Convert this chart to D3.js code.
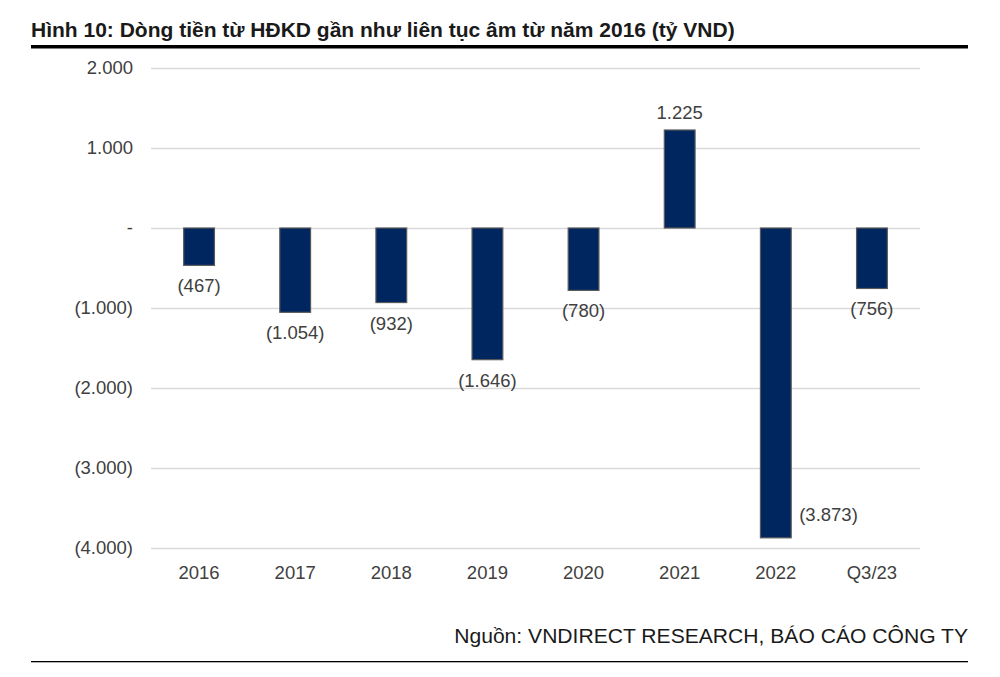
<!DOCTYPE html>
<html>
<head>
<meta charset="utf-8">
<script src="https://cdn.jsdelivr.net/npm/d3@7"></script>
<style>
  body { margin: 0; background: #fff; }
  svg { font-family: "Liberation Sans", Arial, sans-serif; }
</style>
</head>
<body>
<svg id="chart" width="1000" height="677"></svg>
<script>
const categories = ['2016', '2017', '2018', '2019', '2020', '2021', '2022', 'Q3/23'];
const values = [-467, -1054, -932, -1646, -780, 1225, -3873, -756];
const yTicks = [2000, 1000, 0, -1000, -2000, -3000, -4000];

const width = 1000, height = 677;
const svg = d3.select('#chart');
const labelSize = '18.5px';

// number format like the source: dot thousands, negatives in brackets, zero as dash
function fmt(v) {
  if (v === 0) return '-';
  let s = Math.abs(v).toString().replace(/\B(?=(\d{3})+(?!\d))/g, '.');
  return v < 0 ? `(${s})` : s;
}

// title + rules
svg.append('text')
  .attr('x', 31).attr('y', 37)
  .style('font-size', '21px').style('font-weight', 'bold').style('fill', '#1a1a1a')
  .text('Hình 10: Dòng tiền từ HĐKD gần như liên tục âm từ năm 2016 (tỷ VND)');
svg.append('rect').attr('x', 31).attr('y', 45).attr('width', 937).attr('height', 3.5).style('fill', '#000');

svg.append('text')
  .attr('x', 968).attr('y', 643).attr('text-anchor', 'end')
  .style('font-size', '21.1px').style('fill', '#1a1a1a')
  .text('Nguồn: VNDIRECT RESEARCH, BÁO CÁO CÔNG TY');
svg.append('rect').attr('x', 31).attr('y', 661).attr('width', 937).attr('height', 1.3).style('fill', '#000');

// scales
let x = d3.scaleBand().domain(categories).range([151, 920]).paddingInner(0.68).paddingOuter(0.34);
let y = d3.scaleLinear().domain([-4000, 2000]).range([548, 68]);

// grid
let grid = d3.axisLeft(y).tickValues(yTicks).tickSize(-(920 - 151)).tickFormat('');
let gGrid = svg.append('g').attr('transform', `translate(${151},0)`).call(grid);
gGrid.select('.domain').remove();
gGrid.selectAll('line').style('stroke', '#d9d9d9').style('stroke-width', 1.3);

// y axis labels
let yAxis = d3.axisLeft(y).tickValues(yTicks).tickSize(0).tickPadding(0).tickFormat(fmt);
let gy = svg.append('g').attr('transform', `translate(${133},0)`).call(yAxis);
gy.select('.domain').remove();
gy.selectAll('text').style('font-size', labelSize).style('fill', '#404040').style('font-family', '"Liberation Sans", Arial, sans-serif');

// x axis labels
let xAxis = d3.axisBottom(x).tickSize(0).tickPadding(0);
let gx = svg.append('g').attr('transform', `translate(0,${566})`).call(xAxis);
gx.select('.domain').remove();
gx.selectAll('text').style('font-size', labelSize).style('fill', '#404040').style('font-family', '"Liberation Sans", Arial, sans-serif');

// bars
svg.append('g').selectAll('rect')
  .data(values)
  .join('rect')
  .attr('x', (d, i) => x(categories[i]))
  .attr('y', d => y(Math.max(0, d)))
  .attr('width', x.bandwidth())
  .attr('height', d => Math.abs(y(d) - y(0)))
  .style('fill', '#002660')
  .style('stroke', '#595959')
  .style('stroke-width', 1.2);

// data labels; the lowest one does not fit under its bar and sits beside it
const fitsBelow = d => y(d) + 28 <= 548;
svg.append('g').selectAll('text')
  .data(values)
  .join('text')
  .attr('x', (d, i) => fitsBelow(d) || d >= 0
    ? x(categories[i]) + x.bandwidth() / 2
    : x(categories[i]) + x.bandwidth() + 8)
  .attr('y', d => {
    if (d >= 0) return y(d) - 11.5;
    if (!fitsBelow(d)) return y(d) - 16.5;
    return y(d) + 27;
  })
  .attr('text-anchor', d => (d < 0 && !fitsBelow(d)) ? 'start' : 'middle')
  .style('font-size', labelSize)
  .style('fill', '#404040')
  .text(fmt);
</script>
</body>
</html>
